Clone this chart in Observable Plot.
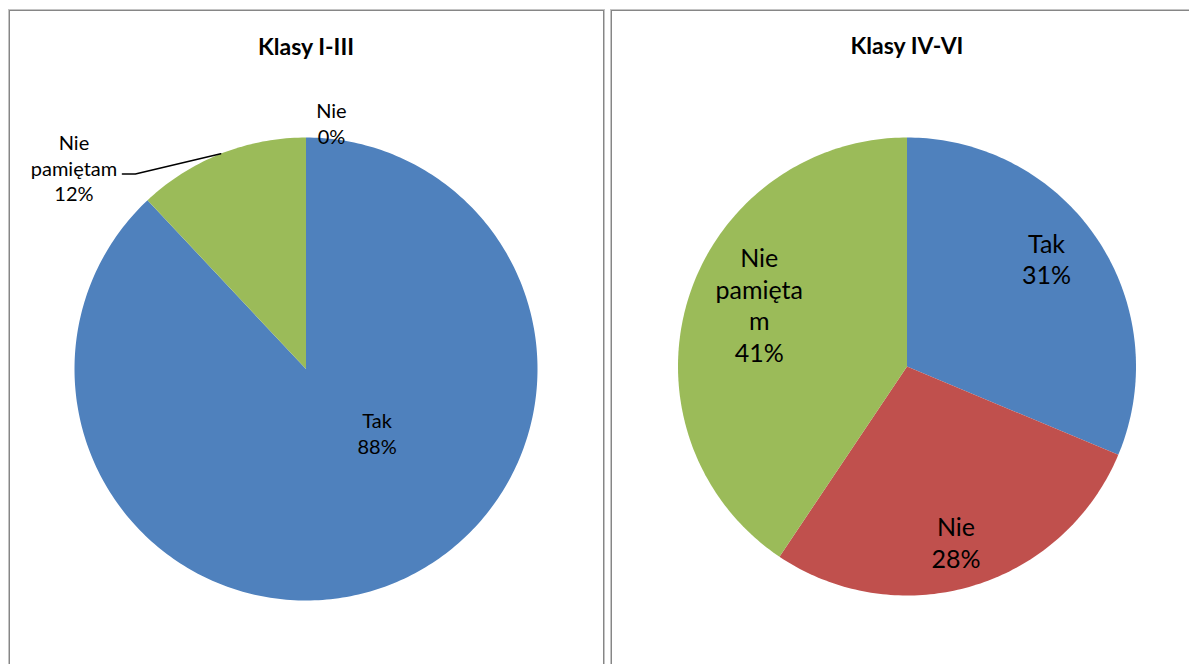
<!DOCTYPE html>
<html>
<head>
<meta charset="utf-8">
<script src="https://cdn.jsdelivr.net/npm/d3@7"></script>
<script src="https://cdn.jsdelivr.net/npm/@observablehq/plot@0.6"></script>
<style>
  html, body { margin: 0; padding: 0; background: #fff; width: 1189px; height: 664px; overflow: hidden; }
  .panel { position: absolute; top: 9px; height: 700px; border: 1px solid #c4c4c4; box-shadow: inset 0 0 0 1px #868686; }
  .chart { position: absolute; top: 0; }
</style>
</head>
<body>
<div class="panel" style="left:8px;width:595px"></div>
<div class="panel" style="left:610px;width:700px"></div>
<div id="c1" class="chart" style="left:0;width:606px;height:664px"></div>
<div id="c2" class="chart" style="left:606px;width:583px;height:664px"></div>
<script>
// ---- data ----
const categories = ["Tak", "Nie", "Nie pamiętam"];
const colors = ["#4F81BD", "#C0504D", "#9BBB59"];

const titleI_III = "Klasy I-III";
const valuesI_III = [88, 0, 12];               // percent
const namesI_III = ["Tak", "Nie", "Nie\npamiętam"];

const titleIV_VI = "Klasy IV-VI";
const valuesIV_VI = [31.3, 28.1, 40.6];        // percent
const namesIV_VI = ["Tak", "Nie", "Nie\npamięta\nm"];

// ---- label placement (polar: degrees clockwise from top, fraction of radius) ----
const placeI_III = [[132.0, 0.413], [5.9, 1.069], [311.0, 1.328]];
const placeIV_VI = [[52.2, 0.771], [164.4, 0.795], [292.8, 0.700]];
// leader line for the outside label of "Nie pamiętam" (left chart)
const leaderI_III = {index: 2, elbow: [318.8, 1.119], tail: 0.056};

function polar(deg, rf) {
  const a = deg * Math.PI / 180;
  return {x: rf * Math.sin(a), y: rf * Math.cos(a)};
}

function pieChart(o) {
  const arcs = d3.pie().sort(null).value(d => d)(o.values);
  const pts = [];
  arcs.forEach((a, i) => {
    if (a.endAngle - a.startAngle <= 0) return;
    pts.push({x: 0, y: 0, key: i, cat: categories[i]});
    const n = Math.max(2, Math.ceil((a.endAngle - a.startAngle) * 180 / Math.PI));
    for (let k = 0; k <= n; k++) {
      const t = a.startAngle + (a.endAngle - a.startAngle) * k / n;
      pts.push({x: Math.sin(t), y: Math.cos(t), key: i, cat: categories[i]});
    }
  });
  const labels = o.values.map((v, i) => {
    const p = polar(o.place[i][0], o.place[i][1]);
    return {x: p.x, y: p.y, text: o.names[i] + "\n" + Math.round(v) + "%"};
  });
  const marks = [
    Plot.line(pts, {x: "x", y: "y", z: "key", fill: "cat", stroke: "none", curve: "linear-closed"})
  ];
  if (o.leader) {
    const a = arcs[o.leader.index];
    const midDeg = (a.startAngle + a.endAngle) / 2 * 180 / Math.PI;
    const p0 = polar(midDeg, 1);
    const p1 = polar(o.leader.elbow[0], o.leader.elbow[1]);
    const p2 = {x: p1.x - o.leader.tail, y: p1.y};
    marks.push(Plot.line([p0, p1, p2], {x: "x", y: "y", stroke: "black", strokeWidth: 1.5}));
  }
  marks.push(Plot.text(labels, {x: "x", y: "y", text: "text", fill: "black",
    fontSize: o.fontSize, lineHeight: o.lineHeight}));
  marks.push(Plot.text([{t: o.title, x: 0}], {x: "x", text: "t", frameAnchor: "top",
    lineAnchor: "bottom", dy: o.titleY, fontWeight: "bold", fontSize: o.titleSize, fill: "black"}));
  return Plot.plot({
    width: o.width, height: o.height, margin: 0,
    x: {domain: [-1, 1], range: [o.cx - o.r, o.cx + o.r], axis: null},
    y: {domain: [-1, 1], range: [o.cy + o.r, o.cy - o.r], axis: null},
    color: {domain: categories, range: colors},
    style: {fontFamily: "Lato, 'Open Sans', sans-serif", background: "transparent", overflow: "visible"},
    marks
  });
}

document.getElementById("c1").append(pieChart({
  values: valuesI_III, names: namesI_III, place: placeI_III, leader: leaderI_III,
  title: titleI_III, width: 606, height: 664, cx: 305.5, cy: 368.5, r: 231.5,
  fontSize: 20, lineHeight: 1.28, titleSize: 23, titleY: 54
}));
document.getElementById("c2").append(pieChart({
  values: valuesIV_VI, names: namesIV_VI, place: placeIV_VI,
  title: titleIV_VI, width: 583, height: 664, cx: 300.5, cy: 366, r: 229,
  fontSize: 25, lineHeight: 1.27, titleSize: 23, titleY: 53
}));
</script>
</body>
</html>
